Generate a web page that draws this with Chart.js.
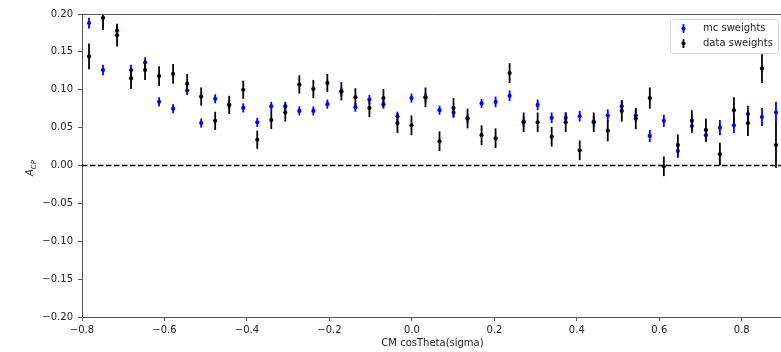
<!DOCTYPE html>
<html>
<head>
<meta charset="utf-8">
<script src="https://cdn.jsdelivr.net/npm/chart.js@4"></script>
<style>
  html, body { margin: 0; padding: 0; background: #fff; overflow: hidden; }
  #wrap { width: 787px; height: 352px; position: relative; }
</style>
</head>
<body>
<div id="wrap"><canvas id="chart"></canvas></div>
<script>
// bin centres of cosTheta(sigma)
const binCenters = [
  -0.783, -0.749, -0.715, -0.681, -0.647, -0.613, -0.579, -0.545, -0.511, -0.477,
  -0.443, -0.409, -0.375, -0.341, -0.307, -0.273, -0.239, -0.205, -0.171, -0.137,
  -0.103, -0.069, -0.035, -0.001, 0.033, 0.067, 0.101, 0.135, 0.169, 0.203,
  0.237, 0.271, 0.305, 0.339, 0.373, 0.407, 0.441, 0.475, 0.509, 0.543,
  0.577, 0.611, 0.645, 0.679, 0.713, 0.747, 0.781, 0.815, 0.849, 0.883
];

const mcValues = [
  0.188, 0.126, 0.178, 0.126, 0.136, 0.084, 0.075, 0.099, 0.056, 0.088,
  0.080, 0.076, 0.057, 0.078, 0.078, 0.072, 0.072, 0.081, 0.097, 0.077,
  0.087, 0.081, 0.065, 0.089, 0.090, 0.073, 0.070, 0.062, 0.082, 0.084,
  0.092, 0.058, 0.080, 0.063, 0.063, 0.065, 0.058, 0.066, 0.078, 0.066,
  0.039, 0.059, 0.019, 0.052, 0.040, 0.050, 0.053, 0.068, 0.064, 0.070
];
const mcErrors = [
  0.007, 0.007, 0.007, 0.007, 0.007, 0.006, 0.006, 0.006, 0.006, 0.006,
  0.006, 0.006, 0.006, 0.006, 0.006, 0.006, 0.006, 0.006, 0.006, 0.006,
  0.006, 0.006, 0.006, 0.006, 0.006, 0.006, 0.006, 0.006, 0.006, 0.007,
  0.007, 0.007, 0.007, 0.007, 0.007, 0.007, 0.007, 0.008, 0.008, 0.008,
  0.008, 0.008, 0.009, 0.009, 0.009, 0.010, 0.010, 0.011, 0.012, 0.014
];

const dataValues = [
  0.144, 0.195, 0.172, 0.115, 0.126, 0.118, 0.121, 0.108, 0.091, 0.059,
  0.080, 0.100, 0.034, 0.060, 0.070, 0.107, 0.101, 0.109, 0.098, 0.090,
  0.076, 0.089, 0.056, 0.053, 0.090, 0.032, 0.076, 0.062, 0.040, 0.036,
  0.122, 0.057, 0.057, 0.038, 0.057, 0.020, 0.057, 0.046, 0.072, 0.062,
  0.089, -0.001, 0.027, 0.059, 0.047, 0.015, 0.073, 0.056, 0.128, 0.027
];
const dataErrors = [
  0.017, 0.016, 0.015, 0.014, 0.013, 0.013, 0.013, 0.013, 0.012, 0.012,
  0.012, 0.012, 0.012, 0.012, 0.012, 0.012, 0.012, 0.012, 0.012, 0.012,
  0.012, 0.012, 0.013, 0.013, 0.013, 0.013, 0.013, 0.013, 0.013, 0.013,
  0.013, 0.013, 0.013, 0.013, 0.013, 0.013, 0.013, 0.014, 0.014, 0.014,
  0.014, 0.013, 0.014, 0.014, 0.015, 0.015, 0.017, 0.017, 0.019, 0.030
];

const xTicks = [-0.8, -0.6, -0.4, -0.2, 0.0, 0.2, 0.4, 0.6, 0.8];
const yTicks = [-0.20, -0.15, -0.10, -0.05, 0.00, 0.05, 0.10, 0.15, 0.20];
const xRange = [-0.8, 0.9];
const yRange = [-0.2, 0.2];

const legendLabels = ['mc sweights', 'data sweights'];
const xTitle = 'CM cosTheta(sigma)';

const MC_COLOR = '#0000ff';
const DATA_COLOR = '#000000';
const SPINE = '#555';
const TEXT = '#222';
const FONT = '"DejaVu Sans", sans-serif';

function toPoints(values) {
    return binCenters.map((x, i) => ({ x: x, y: values[i] }));
}

function fmtTick(v, digits) {
    const s = Math.abs(v).toFixed(digits);
    return (v < -1e-9 ? '\u2212' : '') + s;
}

// error bars drawn just before each dataset's markers
const errorBars = {
    id: 'errorBars',
    beforeDatasetDraw(chart, args) {
        const ds = chart.data.datasets[args.index];
        if (!ds.errors) return;
        const ctx = chart.ctx;
        const area = chart.chartArea;
        const xs = chart.scales.x, ys = chart.scales.y;
        ctx.save();
        ctx.beginPath();
        ctx.rect(area.left, area.top, area.right - area.left, area.bottom - area.top);
        ctx.clip();
        ctx.strokeStyle = ds.backgroundColor;
        ctx.lineWidth = 1.8;
        ds.data.forEach((p, i) => {
            const px = xs.getPixelForValue(p.x);
            ctx.beginPath();
            ctx.moveTo(px, ys.getPixelForValue(p.y - ds.errors[i]));
            ctx.lineTo(px, ys.getPixelForValue(p.y + ds.errors[i]));
            ctx.stroke();
        });
        ctx.restore();
    }
};

// top spine, y label with subscript, legend box
const decorations = {
    id: 'decorations',
    afterDraw(chart) {
        const ctx = chart.ctx;
        const area = chart.chartArea;
        ctx.save();
        ctx.strokeStyle = SPINE;
        ctx.lineWidth = 1;
        ctx.beginPath();
        ctx.moveTo(area.left, area.top + 0.5);
        ctx.lineTo(area.right, area.top + 0.5);
        ctx.stroke();

        // y label  A_CP
        ctx.translate(29, 168);
        ctx.rotate(-Math.PI / 2);
        ctx.fillStyle = TEXT;
        ctx.textBaseline = 'alphabetic';
        ctx.font = 'italic 10px ' + FONT;
        const wA = ctx.measureText('A').width;
        ctx.font = 'italic 7px ' + FONT;
        const wCP = ctx.measureText('CP').width;
        const x0 = -(wA + wCP) / 2;
        ctx.font = 'italic 10px ' + FONT;
        ctx.fillText('A', x0, 4);
        ctx.font = 'italic 7px ' + FONT;
        ctx.fillText('CP', x0 + wA, 6.5);
        ctx.restore();

        // legend
        ctx.save();
        const bx = 670.5, by = 19.5, bw = 108, bh = 34;
        ctx.globalAlpha = 0.8;
        ctx.fillStyle = '#fff';
        ctx.strokeStyle = '#ccc';
        ctx.lineWidth = 1;
        ctx.beginPath();
        ctx.roundRect(bx, by, bw, bh, 3);
        ctx.fill();
        ctx.stroke();
        ctx.globalAlpha = 1;
        const colors = [MC_COLOR, DATA_COLOR];
        legendLabels.forEach((label, i) => {
            const cy = 28.5 + i * 15;
            ctx.strokeStyle = colors[i];
            ctx.fillStyle = colors[i];
            ctx.lineWidth = 1.8;
            ctx.beginPath();
            ctx.moveTo(683.5, cy - 4.5);
            ctx.lineTo(683.5, cy + 4.5);
            ctx.stroke();
            ctx.beginPath();
            ctx.arc(683.5, cy, 2.1, 0, Math.PI * 2);
            ctx.fill();
            ctx.fillStyle = TEXT;
            ctx.font = '10px ' + FONT;
            ctx.textBaseline = 'middle';
            ctx.textAlign = 'left';
            ctx.fillText(label, 703, cy);
        });
        ctx.restore();
    }
};

const ctx = document.getElementById('chart').getContext('2d');
new Chart(ctx, {
    type: 'scatter',
    data: {
        datasets: [
            {
                type: 'line',
                label: 'zero',
                data: [{ x: xRange[0], y: 0 }, { x: xRange[1], y: 0 }],
                borderColor: '#000',
                borderWidth: 1.5,
                borderDash: [5.5, 2.5],
                pointRadius: 0,
                order: 3
            },
            {
                label: legendLabels[0],
                data: toPoints(mcValues),
                errors: mcErrors,
                backgroundColor: MC_COLOR,
                borderWidth: 0,
                pointRadius: 2.1,
                order: 2
            },
            {
                label: legendLabels[1],
                data: toPoints(dataValues),
                errors: dataErrors,
                backgroundColor: DATA_COLOR,
                borderWidth: 0,
                pointRadius: 2.1,
                order: 1
            }
        ]
    },
    options: {
        responsive: true,
        maintainAspectRatio: false,
        animation: false,
        layout: { padding: { top: 14, right: 0, left: 0, bottom: 0 } },
        plugins: {
            legend: { display: false },
            tooltip: { enabled: false }
        },
        scales: {
            x: {
                type: 'linear',
                min: xRange[0],
                max: xRange[1],
                afterBuildTicks: s => { s.ticks = xTicks.map(v => ({ value: v })); },
                afterFit: s => { s.height = 35; },
                grid: { drawOnChartArea: false, tickLength: 4, color: SPINE, tickWidth: 1 },
                border: { display: true, color: SPINE, width: 1 },
                ticks: {
                    padding: 3,
                    maxRotation: 0,
                    color: TEXT,
                    font: { family: FONT, size: 10 },
                    callback: v => fmtTick(v, 1)
                },
                title: {
                    display: true,
                    text: xTitle,
                    color: TEXT,
                    font: { family: FONT, size: 10 },
                    padding: { top: 0, bottom: 3 }
                }
            },
            y: {
                min: yRange[0],
                max: yRange[1],
                afterBuildTicks: s => { s.ticks = yTicks.map(v => ({ value: v })); },
                afterFit: s => { s.width = 82; },
                grid: { drawOnChartArea: false, tickLength: 4, color: SPINE, tickWidth: 1 },
                border: { display: true, color: SPINE, width: 1 },
                ticks: {
                    padding: 5,
                    color: TEXT,
                    font: { family: FONT, size: 10 },
                    callback: v => fmtTick(v, 2)
                }
            }
        }
    },
    plugins: [errorBars, decorations]
});
</script>
</body>
</html>
